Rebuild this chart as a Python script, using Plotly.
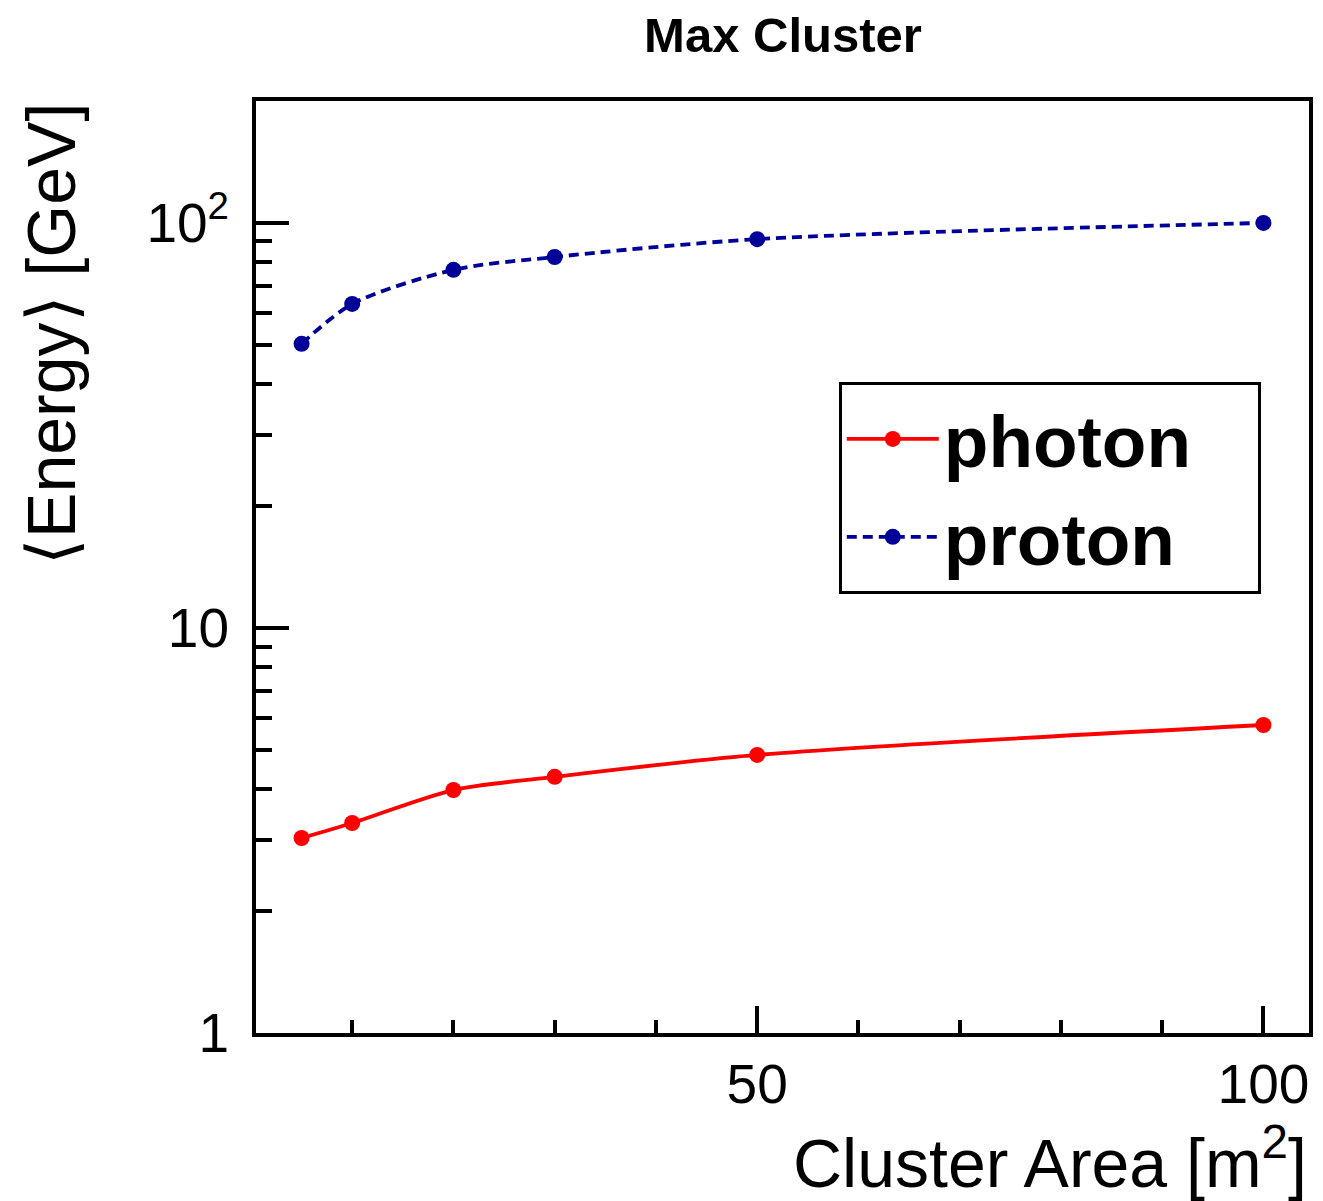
import plotly.graph_objects as go

# ---- data ----
area = [5, 10, 20, 30, 50, 100]
photon_energy = [3.03, 3.30, 3.98, 4.29, 4.86, 5.76]
proton_energy = [50.3, 63.1, 76.6, 82.4, 91.2, 100.0]

x_major = [50, 100]
x_major_text = ["50", "100"]
x_minor = [10, 20, 30, 40, 60, 70, 80, 90]
y_major = [1, 10, 100]
y_major_text = ["1", "10", "10<sup>2</sup>"]
y_minor = [2, 3, 4, 5, 6, 7, 8, 9, 20, 30, 40, 50, 60, 70, 80, 90]

FONT = "Liberation Sans, Arial, sans-serif"
RED = "#ff0000"
BLUE = "#000099"
PAD = "\u00a0\u00a0\u00a0"

W, H = 1323, 1201
ML, MR, MT, MB = 256, 10, 101, 168
PW = W - ML - MR
PH = H - MT - MB

fig = go.Figure()
fig.add_trace(go.Scatter(
    x=area, y=photon_energy, name="photon" + PAD, mode="lines+markers",
    line=dict(color=RED, width=3.8, shape="spline", smoothing=0.8),
    marker=dict(color=RED, size=16, symbol="circle"),
))
fig.add_trace(go.Scatter(
    x=area, y=proton_energy, name="proton" + PAD, mode="lines+markers",
    line=dict(color=BLUE, width=3.8, shape="spline", smoothing=0.8, dash="10px,6px"),
    marker=dict(color=BLUE, size=16, symbol="circle"),
))

fig.update_layout(
    width=W, height=H,
    margin=dict(l=ML, r=MR, t=MT, b=MB, pad=0),
    paper_bgcolor="white", plot_bgcolor="white",
    font=dict(family=FONT, color="black"),
    title=dict(text="<b>Max Cluster</b>", font=dict(size=49, family=FONT),
               x=783 / W, xref="container", xanchor="center",
               y=1 - 35 / H, yref="container", yanchor="middle"),
    showlegend=True,
    legend=dict(x=(841 - ML) / PW, y=(H - MB - 382) / PH, xanchor="left", yanchor="top",
                bordercolor="black", borderwidth=3, bgcolor="white",
                font=dict(size=73, family=FONT, weight="bold"),
                itemwidth=92, tracegroupgap=0),
    xaxis=dict(
        range=[0.5, 104.5], showgrid=False, zeroline=False,
        showline=True, linewidth=4, linecolor="black", mirror=True,
        ticks="inside", ticklen=27, tickwidth=4, tickcolor="black",
        tickmode="array", tickvals=x_major, ticktext=x_major_text,
        tickfont=dict(size=55, family=FONT), ticklabelstandoff=0,
        minor=dict(ticks="inside", ticklen=13, tickwidth=4, tickcolor="black",
                   tickmode="array", tickvals=x_minor, showgrid=False),
    ),
    yaxis=dict(
        type="log", range=[0, 2.30103], showgrid=False, zeroline=False,
        showline=True, linewidth=4, linecolor="black", mirror=True,
        ticks="inside", ticklen=33, tickwidth=4, tickcolor="black",
        tickmode="array", tickvals=y_major, ticktext=y_major_text,
        tickfont=dict(size=55, family=FONT), ticklabelstandoff=12,
        minor=dict(ticks="inside", ticklen=16, tickwidth=4, tickcolor="black",
                   tickmode="array", tickvals=y_minor, showgrid=False),
    ),
    annotations=[
        dict(text="Cluster Area [m<sup>2</sup>]", xref="paper", yref="paper",
             x=1, y=-(1203 - (H - MB)) / PH, xanchor="right", yanchor="bottom",
             showarrow=False, font=dict(size=68, family=FONT)),
        dict(text="\u27e8Energy\u27e9 [GeV]", xref="paper", yref="paper",
             x=(10 - ML) / PW, y=1, xanchor="left", yanchor="top", textangle=-90,
             showarrow=False, font=dict(size=68, family=FONT)),
    ],
)

fig.write_html("out.html")
